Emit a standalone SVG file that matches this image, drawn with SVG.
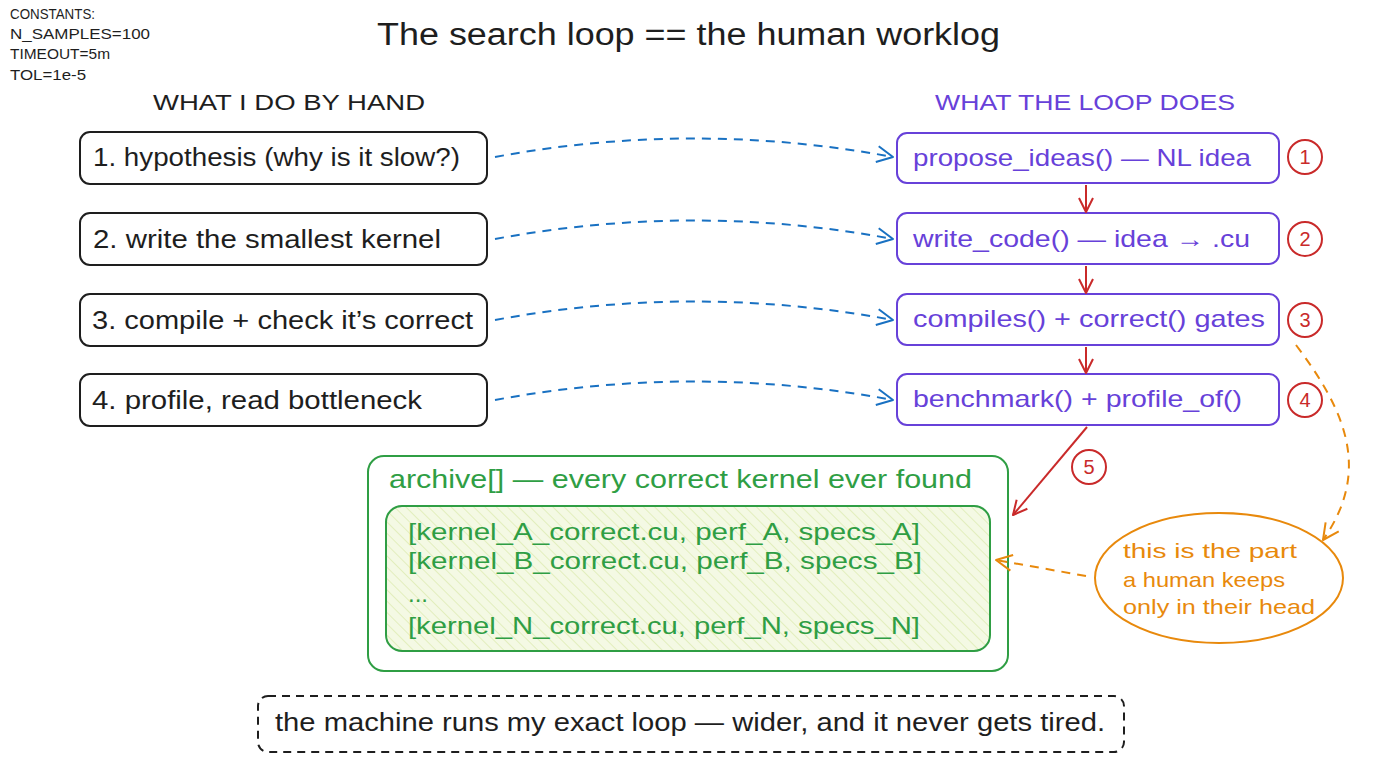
<svg xmlns="http://www.w3.org/2000/svg" width="1376" height="768" viewBox="0 0 1376 768">
<style>
text{font-family:"Liberation Sans",Arial,sans-serif;}
.k{fill:#1e1e1e}
.p{fill:#6741d9}
.g{fill:#2f9e44}
.r{fill:#c92a2a}
.o{fill:#e8890c}
.lb{fill:#fff;stroke:#1e1e1e;stroke-width:2}
.rb{fill:#fff;stroke:#6741d9;stroke-width:2}
.num{fill:none;stroke:#c92a2a;stroke-width:2}
.blue{fill:none;stroke:#1971c2;stroke-width:2;stroke-dasharray:9 7;marker-end:url(#mb)}
.red{fill:none;stroke:#c92a2a;stroke-width:2;marker-end:url(#mr)}
.orng{fill:none;stroke:#e8890c;stroke-width:2;stroke-dasharray:9 7;marker-end:url(#mo)}
.t26{font-size:25px}
.t24{font-size:24px}
</style>
<defs>
<marker id="mb" markerUnits="userSpaceOnUse" markerWidth="24" markerHeight="24" refX="20" refY="12" orient="auto"><path d="M4,4 L20,12 L4,20" fill="none" stroke="#1971c2" stroke-width="2" stroke-linejoin="round"/></marker>
<marker id="mr" markerUnits="userSpaceOnUse" markerWidth="24" markerHeight="24" refX="20" refY="12" orient="auto"><path d="M6,5 L20,12 L6,19" fill="none" stroke="#c92a2a" stroke-width="2" stroke-linejoin="round"/></marker>
<marker id="mo" markerUnits="userSpaceOnUse" markerWidth="24" markerHeight="24" refX="20" refY="12" orient="auto"><path d="M4,4 L20,12 L4,20" fill="none" stroke="#e8890c" stroke-width="2" stroke-linejoin="round"/></marker>
<pattern id="hatch" patternUnits="userSpaceOnUse" width="8" height="8" patternTransform="rotate(-45)">
<rect width="8" height="8" fill="#f4f9e4"/>
<line x1="0" y1="0" x2="0" y2="8" stroke="#dcebb0" stroke-width="1.5"/>
</pattern>
</defs>
<rect width="1376" height="768" fill="#ffffff"/>

<g id="constants">
<text x="10" y="19" font-size="15" class="k" textLength="85" lengthAdjust="spacingAndGlyphs">CONSTANTS:</text>
<text x="10" y="39" font-size="15" class="k" textLength="140" lengthAdjust="spacingAndGlyphs">N_SAMPLES=100</text>
<text x="10" y="59" font-size="15" class="k" textLength="100" lengthAdjust="spacingAndGlyphs">TIMEOUT=5m</text>
<text x="10" y="80" font-size="15" class="k" textLength="76" lengthAdjust="spacingAndGlyphs">TOL=1e-5</text>
</g>

<g id="title">
<text x="377" y="45" font-size="31" class="k" textLength="623" lengthAdjust="spacingAndGlyphs">The search loop == the human worklog</text>
</g>

<g id="headings">
<text x="153" y="110" font-size="22" class="k" textLength="272" lengthAdjust="spacingAndGlyphs">WHAT I DO BY HAND</text>
<text x="935" y="110" font-size="22" class="p" textLength="300" lengthAdjust="spacingAndGlyphs">WHAT THE LOOP DOES</text>
</g>

<g id="h1"><rect class="lb" x="80" y="132" width="407" height="52" rx="10"/><text x="93" y="166" class="k t26" textLength="367" lengthAdjust="spacingAndGlyphs">1. hypothesis (why is it slow?)</text></g>
<g id="h2"><rect class="lb" x="80" y="213" width="407" height="52" rx="10"/><text x="93" y="248" class="k t26" textLength="348" lengthAdjust="spacingAndGlyphs">2. write the smallest kernel</text></g>
<g id="h3"><rect class="lb" x="80" y="294" width="407" height="52" rx="10"/><text x="92" y="329" class="k t26" textLength="381" lengthAdjust="spacingAndGlyphs">3. compile + check it’s correct</text></g>
<g id="h4"><rect class="lb" x="80" y="374" width="407" height="52" rx="10"/><text x="92" y="409" class="k t26" textLength="330" lengthAdjust="spacingAndGlyphs">4. profile, read bottleneck</text></g>

<g id="l1"><rect class="rb" x="897" y="133" width="382" height="50" rx="10"/><text x="913" y="166" class="p t24" textLength="338" lengthAdjust="spacingAndGlyphs">propose_ideas() — NL idea</text></g>
<g id="l2"><rect class="rb" x="897" y="213" width="382" height="51" rx="10"/><text x="913" y="247" class="p t24" textLength="337" lengthAdjust="spacingAndGlyphs">write_code() — idea → .cu</text></g>
<g id="l3"><rect class="rb" x="897" y="294" width="382" height="51" rx="10"/><text x="913" y="327" class="p t24" textLength="352" lengthAdjust="spacingAndGlyphs">compiles() + correct() gates</text></g>
<g id="l4"><rect class="rb" x="897" y="374" width="382" height="51" rx="10"/><text x="913" y="407" class="p t24" textLength="329" lengthAdjust="spacingAndGlyphs">benchmark() + profile_of()</text></g>

<g id="n1"><circle class="num" cx="1305" cy="157" r="17"/><text x="1305" y="164" font-size="20" text-anchor="middle" class="r">1</text></g>
<g id="n2"><circle class="num" cx="1305" cy="239" r="17"/><text x="1305" y="246" font-size="20" text-anchor="middle" class="r">2</text></g>
<g id="n3"><circle class="num" cx="1305" cy="320" r="17"/><text x="1305" y="327" font-size="20" text-anchor="middle" class="r">3</text></g>
<g id="n4"><circle class="num" cx="1305" cy="400" r="17"/><text x="1305" y="407" font-size="20" text-anchor="middle" class="r">4</text></g>
<g id="n5"><circle class="num" cx="1089" cy="467" r="17"/><text x="1089" y="474" font-size="20" text-anchor="middle" class="r">5</text></g>

<g id="archive">
<rect x="368" y="456" width="640" height="215" rx="16" fill="#fff" stroke="#2f9e44" stroke-width="2"/>
<text x="389" y="488" font-size="25" class="g" textLength="583" lengthAdjust="spacingAndGlyphs">archive[] — every correct kernel ever found</text>
<rect x="386" y="506" width="604" height="145" rx="16" fill="url(#hatch)" stroke="#2f9e44" stroke-width="2"/>
<text x="408" y="540" font-size="24" class="g" textLength="512" lengthAdjust="spacingAndGlyphs">[kernel_A_correct.cu, perf_A, specs_A]</text>
<text x="408" y="569" font-size="24" class="g" textLength="514" lengthAdjust="spacingAndGlyphs">[kernel_B_correct.cu, perf_B, specs_B]</text>
<text x="408" y="602" font-size="24" class="g">...</text>
<text x="408" y="634" font-size="24" class="g" textLength="512" lengthAdjust="spacingAndGlyphs">[kernel_N_correct.cu, perf_N, specs_N]</text>
</g>

<g id="note">
<ellipse cx="1219" cy="578" rx="124" ry="65" fill="#fff" stroke="#e8890c" stroke-width="2"/>
<text x="1123" y="558" font-size="21" class="o" textLength="174" lengthAdjust="spacingAndGlyphs">this is the part</text>
<text x="1123" y="587" font-size="21" class="o" textLength="162" lengthAdjust="spacingAndGlyphs">a human keeps</text>
<text x="1123" y="614" font-size="21" class="o" textLength="192" lengthAdjust="spacingAndGlyphs">only in their head</text>
</g>

<g id="footer">
<rect x="258" y="696" width="866" height="56" rx="10" fill="#fff" stroke="#1e1e1e" stroke-width="2" stroke-dasharray="8 6"/>
<text x="275" y="731" font-size="25" class="k" textLength="830" lengthAdjust="spacingAndGlyphs">the machine runs my exact loop — wider, and it never gets tired.</text>
</g>

<g id="connectors">
<path class="blue" d="M495,157 Q694,120 893,157"/>
<path class="blue" d="M495,239 Q694,202 893,239"/>
<path class="blue" d="M495,320 Q694,283 893,320"/>
<path class="blue" d="M495,400 Q694,363 893,400"/>
<path class="red" d="M1086,185 L1086,212"/>
<path class="red" d="M1086,266 L1086,293"/>
<path class="red" d="M1086,347 L1086,373"/>
<path class="red" d="M1087,427 L1013,515"/>
<path class="orng" d="M1296,345 C1345,410 1372,470 1323,540"/>
<path class="orng" d="M1086,576 L996,560"/>
</g>
</svg>
